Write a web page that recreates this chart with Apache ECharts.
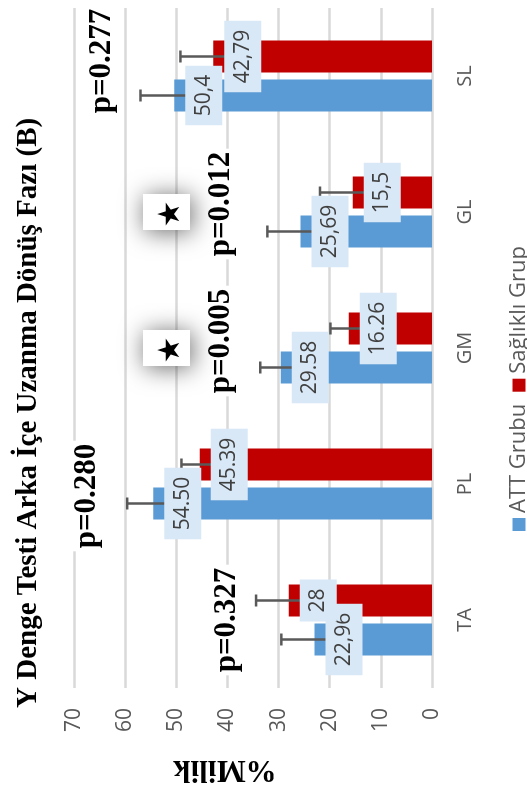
<!DOCTYPE html>
<html>
<head>
<meta charset="utf-8">
<script src="https://cdn.jsdelivr.net/npm/echarts@6/dist/echarts.min.js"></script>
<style>
  html, body { margin: 0; padding: 0; background: #fff; overflow: hidden; }
  /* The chart is laid out as a column chart and turned a quarter turn counter-clockwise */
  #chart {
    position: absolute; left: 0; top: 0;
    width: 798px; height: 527px;
    transform-origin: 0 0;
    transform: translate(0, 798px) rotate(-90deg);
  }
</style>
</head>
<body>
<div id="chart"></div>
<script>
const categories = ['TA', 'PL', 'GM', 'GL', 'SL'];
const attValues = [22.96, 54.50, 29.58, 25.69, 50.4];
const healthyValues = [28, 45.39, 16.26, 15.5, 42.79];
const attErrors = [6.5, 5.1, 4.0, 6.5, 6.6];
const healthyErrors = [6.4, 3.6, 3.6, 6.4, 6.4];
const attLabels = ['22,96', '54.50', '29.58', '25,69', '50,4'];
const healthyLabels = ['28', '45.39', '16.26', '15,5', '42,79'];
const pTexts = ['p=0.327', 'p=0.280', 'p=0.005', 'p=0.012', 'p=0.277'];
const significant = [false, false, true, true, false];
const valueTicks = [0, 10, 20, 30, 40, 50, 60, 70];

// where each p-value note and significance star sits on the value axis
const pLevels = [40, 67.4, 41.3, 41.3, 64.5];
const pShift = [0, -12, 7, 8, 15];
const starLevel = 52;

const BAR_W = 32;
const BAR_GAP = 7;
const SERIF = '"Liberation Serif", "DejaVu Serif", serif';
const SANS = '"Open Sans", "Noto Sans", sans-serif';

const chart = echarts.init(document.getElementById('chart'), null, { renderer: 'canvas' });

function barCenterX(api, i, v, side) {
  const c = api.coord([i, v]);
  return [c[0] + side * (BAR_W + BAR_GAP) / 2, c[1]];
}

function errorItem(params, api) {
  const i = api.value(0), v = api.value(1), e = api.value(2), side = api.value(3);
  const x = barCenterX(api, i, v, side)[0];
  const yTop = api.coord([i, v + e])[1];
  const yBot = api.coord([i, v - e])[1];
  const st = { stroke: '#595959', lineWidth: 2.5 };
  return {
    type: 'group',
    children: [
      { type: 'line', shape: { x1: x, y1: yTop, x2: x, y2: yBot }, style: st },
      { type: 'line', shape: { x1: x - 6, y1: yTop, x2: x + 6, y2: yTop }, style: st },
      { type: 'line', shape: { x1: x - 6, y1: yBot, x2: x + 6, y2: yBot }, style: st }
    ]
  };
}

function labelItem(params, api) {
  const i = api.value(0), v = api.value(1), side = api.value(2);
  const p = barCenterX(api, i, v, side);
  const text = side < 0 ? attLabels[i] : healthyLabels[i];
  return {
    type: 'text',
    x: p[0],
    y: p[1] + 11,
    style: {
      text: text,
      fill: '#404040',
      font: '21px ' + SANS,
      align: 'center',
      verticalAlign: 'top',
      backgroundColor: '#d9e8f6',
      padding: [8, 9, 8, 9]
    }
  };
}

function noteItem(params, api) {
  const i = api.value(0);
  const c = api.coord([i, pLevels[i]]);
  const children = [{
    type: 'text',
    x: c[0] + pShift[i],
    y: c[1],
    style: {
      text: pTexts[i],
      fill: '#000',
      font: 'bold 31px ' + SERIF,
      align: 'center',
      verticalAlign: 'middle',
      backgroundColor: '#fff',
      padding: [0, 3, 0, 3]
    }
  }];
  if (significant[i]) {
    const s = api.coord([i, starLevel]);
    children.push({
      type: 'rect',
      shape: { x: s[0] - 18, y: s[1] - 23, width: 36, height: 47 },
      style: { fill: '#fff', shadowBlur: 24, shadowColor: 'rgba(0,0,0,0.6)', shadowOffsetX: -2, shadowOffsetY: 2 }
    });
    children.push({
      type: 'text',
      x: s[0] - 2,
      y: s[1] + 5,
      style: { text: '★', fill: '#000', font: '30px "DejaVu Sans", sans-serif', align: 'center', verticalAlign: 'middle' }
    });
  }
  return { type: 'group', children: children };
}

const option = {
  animation: false,
  title: {
    text: 'Y Denge Testi Arka İçe Uzanma Dönüş Fazı (B)',
    left: 85,
    top: 9,
    textStyle: { fontFamily: SERIF, fontWeight: 'bold', fontSize: 29, color: '#000' }
  },
  legend: {
    data: ['ATT Grubu', 'Sağlıklı Grup'],
    left: 262,
    top: 503,
    icon: 'rect',
    itemWidth: 13,
    itemHeight: 13,
    itemGap: 12,
    textStyle: { fontFamily: SANS, fontSize: 22, color: '#595959' }
  },
  grid: { left: 110, right: 8, top: 74, bottom: 95 },
  xAxis: {
    type: 'category',
    data: categories,
    axisLine: { show: false },
    axisTick: { show: false },
    axisLabel: { color: '#595959', fontFamily: SANS, fontSize: 20, margin: 23 }
  },
  yAxis: {
    type: 'value',
    min: valueTicks[0],
    max: valueTicks[valueTicks.length - 1],
    interval: valueTicks[1] - valueTicks[0],
    name: '%Milik',
    nameLocation: 'middle',
    nameGap: 66,
    nameTextStyle: { fontFamily: SERIF, fontWeight: 'bold', fontSize: 31, color: '#000', padding: [0, 0, 0, 56] },
    axisLine: { show: false },
    axisTick: { show: false },
    axisLabel: { color: '#595959', fontFamily: SANS, fontSize: 21, margin: 20 },
    splitLine: { lineStyle: { color: '#d9d9d9', width: 2.5 } }
  },
  series: [
    {
      name: 'ATT Grubu',
      type: 'bar',
      data: attValues,
      barWidth: BAR_W,
      barGap: (BAR_GAP / BAR_W * 100) + '%',
      itemStyle: { color: '#5b9bd5' },
      z: 2
    },
    {
      name: 'Sağlıklı Grup',
      type: 'bar',
      data: healthyValues,
      barWidth: BAR_W,
      itemStyle: { color: '#c00000' },
      z: 2
    },
    {
      name: 'errors',
      type: 'custom',
      z: 3,
      silent: true,
      renderItem: errorItem,
      encode: { x: 0, y: 1 },
      data: categories.map((c, i) => [i, attValues[i], attErrors[i], -1])
        .concat(categories.map((c, i) => [i, healthyValues[i], healthyErrors[i], 1]))
    },
    {
      name: 'labels',
      type: 'custom',
      z: 4,
      silent: true,
      renderItem: labelItem,
      encode: { x: 0, y: 1 },
      data: categories.map((c, i) => [i, attValues[i], -1])
        .concat(categories.map((c, i) => [i, healthyValues[i], 1]))
    },
    {
      name: 'notes',
      type: 'custom',
      z: 5,
      silent: true,
      renderItem: noteItem,
      encode: { x: 0, y: 1 },
      data: categories.map((c, i) => [i, pLevels[i]])
    }
  ]
};

chart.setOption(option);
</script>
</body>
</html>
